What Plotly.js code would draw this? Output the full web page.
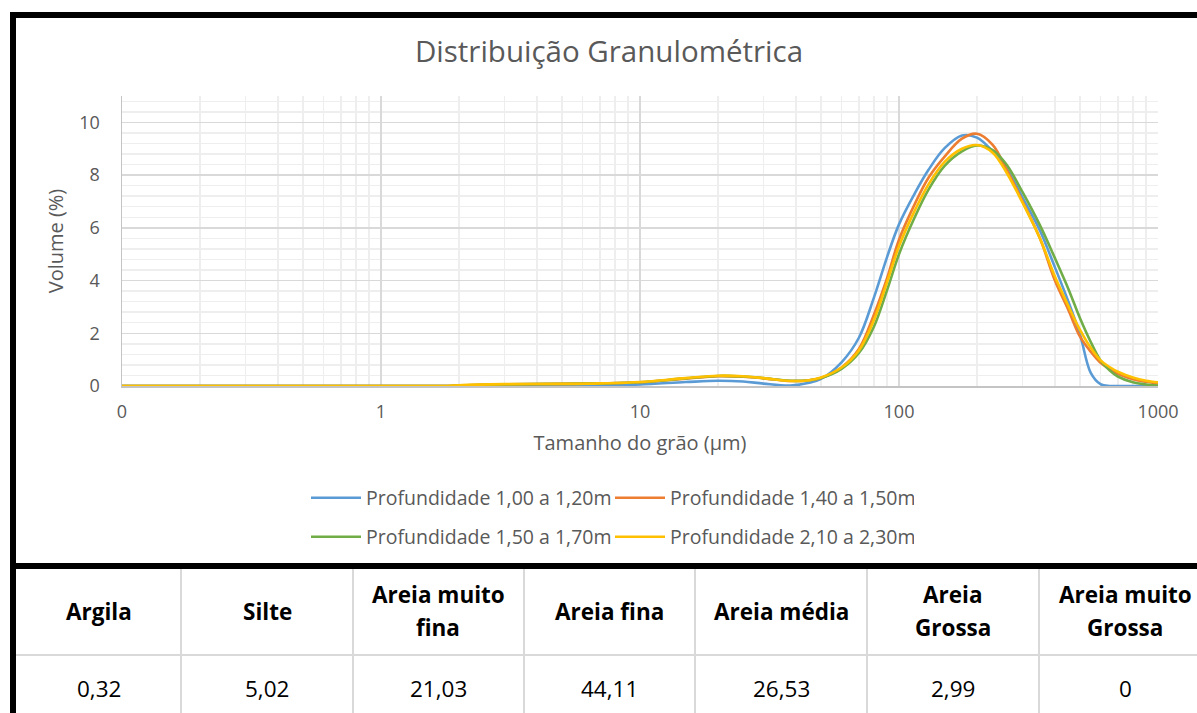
<!DOCTYPE html>
<html>
<head>
<meta charset="utf-8">
<script src="https://cdn.plot.ly/plotly-3.0.1.min.js"></script>
<style>
html,body{margin:0;padding:0;background:#ffffff;}
#chart{width:1197px;height:713px;}
</style>
</head>
<body>
<div id="chart"></div>
<script>
// ---------- DATA ----------
const chartTitle = 'Distribuição Granulométrica';
const xTitle = 'Tamanho do grão (µm)';
const yTitle = 'Volume (%)';

// grain size (µm)
const sizes = [0.1, 0.2, 0.5, 1, 1.5, 1.8, 2, 3, 5, 7, 10, 15, 20, 25, 30, 38, 45, 50, 60, 70, 80, 90, 100, 115, 130, 150, 175, 200, 230, 260, 300, 350, 400, 450, 500, 550, 600, 650, 700, 800, 900, 1000];

const prof100a120 = [0, 0, 0, 0, 0, 0, 0, 0.01, 0.02, 0.03, 0.06, 0.15, 0.2, 0.17, 0.09, 0.02, 0.12, 0.27, 0.9, 1.83, 3.35, 4.9, 6.13, 7.3, 8.2, 9.02, 9.5, 9.42, 8.9, 8.25, 7.15, 5.9, 4.5, 3.22, 1.95, 0.5, 0.07, 0, 0, 0, 0, 0];
const prof140a150 = [0, 0, 0, 0, 0, 0, 0.02, 0.06, 0.08, 0.1, 0.14, 0.28, 0.37, 0.35, 0.29, 0.19, 0.22, 0.3, 0.7, 1.4, 2.7, 4.1, 5.55, 6.9, 7.9, 8.7, 9.38, 9.57, 9.15, 8.22, 7.0, 5.6, 4.0, 2.9, 1.87, 1.3, 0.88, 0.64, 0.46, 0.26, 0.16, 0.1];
const prof150a170 = [0, 0, 0, 0, 0, 0, 0.02, 0.06, 0.08, 0.1, 0.14, 0.29, 0.38, 0.36, 0.3, 0.2, 0.22, 0.3, 0.65, 1.25, 2.25, 3.65, 5.0, 6.4, 7.45, 8.35, 8.9, 9.12, 8.95, 8.4, 7.35, 6.1, 4.85, 3.7, 2.57, 1.67, 0.97, 0.6, 0.36, 0.14, 0.06, 0.02];
const prof210a230 = [0, 0, 0, 0, 0, 0, 0.03, 0.07, 0.08, 0.1, 0.15, 0.3, 0.39, 0.37, 0.3, 0.19, 0.22, 0.32, 0.7, 1.35, 2.5, 3.95, 5.3, 6.65, 7.65, 8.5, 9.0, 9.14, 8.85, 8.1, 6.95, 5.6, 4.15, 3.05, 2.13, 1.45, 0.97, 0.72, 0.54, 0.32, 0.2, 0.14];

const seriesNames = ['Profundidade 1,00 a 1,20m', 'Profundidade 1,40 a 1,50m', 'Profundidade 1,50 a 1,70m', 'Profundidade 2,10 a 2,30m'];
const seriesValues = [prof100a120, prof140a150, prof150a170, prof210a230];
const seriesColors = ['#5B9BD5', '#ED7D31', '#70AD47', '#FFC000'];
const seriesLegend = ['legend', 'legend', 'legend2', 'legend2'];

const tableHeaders = ['Argila', 'Silte', 'Areia muito<br>fina', 'Areia fina', 'Areia média', 'Areia<br>Grossa', 'Areia muito<br>Grossa'];
const tableValues = ['0,32', '5,02', '21,03', '44,11', '26,53', '2,99', '0'];

// ---------- LAYOUT HELPERS ----------
const W = 1197, H = 713, ML = 122, MR = 39, MT = 96, MB = 327;
const PW = W - ML - MR, PH = H - MT - MB;
const fx = p => (p - ML) / PW;          // pixel x -> paper x
const fy = p => (H - MB - p) / PH;      // pixel y -> paper y
const FONT = 'Open Sans, DejaVu Sans, sans-serif';
const GREY = '#595959';

const traces = seriesNames.map((n, i) => ({
  type: 'scatter', mode: 'lines', name: n,
  x: sizes, y: seriesValues[i],
  line: {color: seriesColors[i], width: 2.6, shape: 'spline', smoothing: 1},
  legend: seriesLegend[i], cliponaxis: false, hoverinfo: 'x+y+name'
}));

// table + frame drawing
const colEdges = [16, 181, 353, 524, 695, 867, 1039, 1211];
const shapes = [];
const annotations = [];
// light table grid
shapes.push({type: 'line', xref: 'paper', yref: 'paper', x0: fx(16), x1: fx(1200), y0: fy(655), y1: fy(655), line: {color: '#d9d9d9', width: 2}});
for (let i = 1; i < colEdges.length - 1; i++) {
  shapes.push({type: 'line', xref: 'paper', yref: 'paper', x0: fx(colEdges[i]), x1: fx(colEdges[i]), y0: fy(569), y1: fy(720), line: {color: '#d9d9d9', width: 2}});
}
// black frame
shapes.push({type: 'line', xref: 'paper', yref: 'paper', x0: fx(10), x1: fx(1205), y0: fy(15), y1: fy(15), line: {color: '#000', width: 6}});
shapes.push({type: 'line', xref: 'paper', yref: 'paper', x0: fx(13), x1: fx(13), y0: fy(12), y1: fy(720), line: {color: '#000', width: 6}});
shapes.push({type: 'line', xref: 'paper', yref: 'paper', x0: fx(10), x1: fx(1205), y0: fy(566), y1: fy(566), line: {color: '#000', width: 6}});

tableHeaders.forEach((h, i) => {
  const cx = (colEdges[i] + colEdges[i + 1]) / 2;
  const lines = h.split('<br>');
  const ys = lines.length === 2 ? [594, 627] : [611];
  lines.forEach((t, k) => {
    annotations.push({xref: 'paper', yref: 'paper', x: fx(cx), y: fy(ys[k]), xanchor: 'center', yanchor: 'middle',
      text: '<b>' + t + '</b>', showarrow: false, align: 'center', font: {family: FONT, size: 22.5, color: '#000'}});
  });
  annotations.push({xref: 'paper', yref: 'paper', x: fx(cx), y: fy(688), xanchor: 'center', yanchor: 'middle',
    text: tableValues[i], showarrow: false, font: {family: FONT, size: 22.5, color: '#000'}});
});

const legendCommon = {orientation: 'h', xanchor: 'left', yanchor: 'middle', x: fx(306),
  font: {family: FONT, size: 19.5, color: GREY}, itemwidth: 50, entrywidth: 239,
  bgcolor: 'rgba(0,0,0,0)', borderwidth: 0, traceorder: 'normal'};

const layout = {
  width: W, height: H,
  margin: {l: ML, r: MR, t: MT, b: MB, pad: 0},
  paper_bgcolor: '#ffffff', plot_bgcolor: '#ffffff',
  font: {family: FONT, color: GREY},
  showlegend: true,
  title: {text: chartTitle, x: 609 / W, xref: 'container', xanchor: 'center', y: 1 - 52 / H, yref: 'container', yanchor: 'middle',
    font: {family: FONT, size: 29.5, color: GREY}},
  xaxis: {
    type: 'log', range: [-1, 3], tick0: 0, dtick: 1, labelalias: {'0.1': '0'},
    showgrid: true, gridcolor: '#d9d9d9', gridwidth: 1.5,
    minor: {dtick: 'D1', showgrid: true, gridcolor: '#eeeeee', gridwidth: 1.5, ticks: ''},
    showline: true, linecolor: '#c4c4c4', linewidth: 1.5, zeroline: false,
    ticks: 'outside', ticklen: 9, tickcolor: 'rgba(0,0,0,0)',
    tickfont: {family: FONT, size: 18, color: GREY},
    title: {text: xTitle, font: {family: FONT, size: 20, color: GREY}, standoff: 14},
    automargin: false, fixedrange: true
  },
  yaxis: {
    range: [0, 11], tick0: 0, dtick: 2,
    showgrid: true, gridcolor: '#d9d9d9', gridwidth: 1.5,
    minor: {dtick: 0.4, showgrid: true, gridcolor: '#eeeeee', gridwidth: 1.5, ticks: ''},
    showline: true, linecolor: '#c4c4c4', linewidth: 1.5, zeroline: false,
    ticks: 'outside', ticklen: 17, tickcolor: 'rgba(0,0,0,0)',
    tickfont: {family: FONT, size: 18, color: GREY},
    title: {text: yTitle, font: {family: FONT, size: 20, color: GREY}, standoff: 10},
    automargin: false, fixedrange: true
  },
  legend: Object.assign({}, legendCommon, {y: fy(498)}),
  legend2: Object.assign({}, legendCommon, {y: fy(537)}),
  shapes: shapes,
  annotations: annotations
};

Plotly.newPlot('chart', traces, layout, {displayModeBar: false, staticPlot: true});
</script>
</body>
</html>
